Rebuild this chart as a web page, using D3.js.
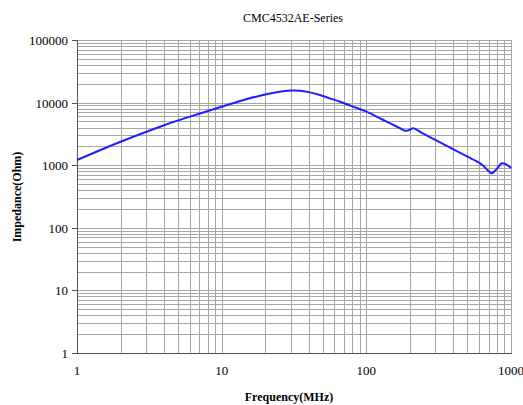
<!DOCTYPE html>
<html>
<head>
<meta charset="utf-8">
<script src="https://cdn.jsdelivr.net/npm/d3@7"></script>
<style>
  body { margin: 0; background: #fff; }
  text { font-family: "Liberation Serif", "Times New Roman", serif; fill: #000; }
</style>
</head>
<body>
<svg width="523" height="405"></svg>
<script>
// impedance curve
const freq = [1, 2, 3.75, 5, 7, 10, 14, 18.4, 24, 30, 34.8, 40, 47.8, 56, 65.7, 80, 100.5, 130, 171, 185, 198, 211, 240, 300, 400, 500, 580, 640, 690, 734, 790, 861, 920, 983, 1000];
const imp = [1210, 2370, 4120, 5200, 6650, 8600, 10900, 12900, 14600, 15600, 15500, 14700, 13230, 11700, 10330, 8720, 7160, 5320, 3890, 3550, 3650, 3885, 3325, 2537, 1791, 1368, 1150, 990, 830, 743, 850, 1072, 1040, 935, 900];

const xTicks = [1, 10, 100, 1000];
const yTicks = [1, 10, 100, 1000, 10000, 100000];

const svg = d3.select("svg");
const pLeft = 77, pRight = 511, pTop = 40, pBottom = 353;

const x = d3.scaleLog().domain([1, 1000]).range([pLeft, pRight]);
const y = d3.scaleLog().domain([1, 100000]).range([pBottom, pTop]);

// minor + major grid values
const gridX = [];
for (let d = 1; d < 1000; d *= 10) for (let k = 1; k <= 9; k++) gridX.push(d * k);
gridX.push(1000);
const gridY = [];
for (let d = 1; d < 100000; d *= 10) for (let k = 1; k <= 9; k++) gridY.push(d * k);
gridY.push(100000);

const grid = svg.append("g").attr("stroke", "#a6a6a6").attr("shape-rendering", "crispEdges");
grid.selectAll(".gx").data(gridX).join("line")
  .attr("x1", d => Math.round(x(d)) + 0.5).attr("x2", d => Math.round(x(d)) + 0.5)
  .attr("y1", pTop).attr("y2", pBottom);
grid.selectAll(".gy").data(gridY).join("line")
  .attr("x1", pLeft).attr("x2", pRight)
  .attr("y1", d => Math.round(y(d)) + 0.5).attr("y2", d => Math.round(y(d)) + 0.5);

// left & bottom axes darker
const ax = svg.append("g").attr("stroke", "#555").attr("shape-rendering", "crispEdges");
ax.append("line").attr("x1", pLeft + 0.5).attr("x2", pLeft + 0.5).attr("y1", pTop).attr("y2", pBottom + 0.5);
ax.append("line").attr("x1", pLeft).attr("x2", pRight + 1).attr("y1", pBottom + 0.5).attr("y2", pBottom + 0.5);
ax.selectAll(".yt").data(yTicks).join("line")
  .attr("x1", pLeft - 5).attr("x2", pLeft)
  .attr("y1", d => Math.round(y(d)) + 0.5).attr("y2", d => Math.round(y(d)) + 0.5);

// tick labels
svg.append("g").selectAll("text").data(yTicks).join("text")
  .attr("x", 68).attr("y", d => y(d) + 5)
  .attr("text-anchor", "end").style("font-size", "13px")
  .text(d => d);
svg.append("g").selectAll("text").data(xTicks).join("text")
  .attr("x", d => x(d)).attr("y", 375)
  .attr("text-anchor", "middle").style("font-size", "13px")
  .text(d => d);

// titles
svg.append("text").attr("x", 293).attr("y", 22).attr("text-anchor", "middle")
  .style("font-size", "12px").text("CMC4532AE-Series");
svg.append("text").attr("x", 289).attr("y", 401).attr("text-anchor", "middle")
  .style("font-size", "12px").style("font-weight", "bold").text("Frequency(MHz)");
svg.append("text").attr("transform", "translate(21,197) rotate(-90)").attr("text-anchor", "middle")
  .style("font-size", "12px").style("font-weight", "bold").text("Impedance(Ohm)");

// curve
const pts = freq.map((f, i) => [f, imp[i]]);
svg.append("path").datum(pts)
  .attr("fill", "none").attr("stroke", "#1f1fff").attr("stroke-width", 2)
  .attr("d", d3.line().x(d => x(d[0])).y(d => y(d[1])).curve(d3.curveCatmullRom.alpha(0.5)));
</script>
</body>
</html>
